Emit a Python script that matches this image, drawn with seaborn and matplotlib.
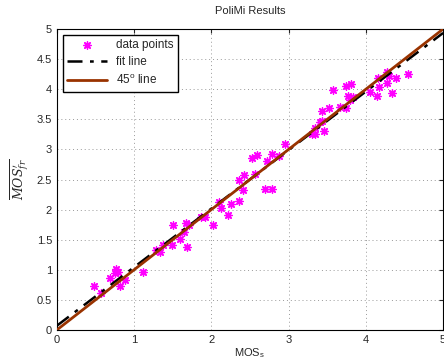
import numpy as np
import pandas as pd
import seaborn as sns
import matplotlib.pyplot as plt

# data points
mos_s = [0.48, 0.57, 0.69, 0.77, 0.79, 0.75, 0.82, 0.88, 1.12, 1.29,
         1.33, 1.38, 1.49, 1.51, 1.60, 1.64, 1.67, 1.71, 1.69, 1.87,
         1.92, 2.02, 2.10, 2.13, 2.21, 2.25, 2.36, 2.41, 2.36, 2.42,
         2.56, 2.70, 2.78, 2.53, 2.59, 2.72, 2.78, 2.88, 2.95, 3.30,
         3.34, 3.34, 3.46, 3.40, 3.43, 3.43, 3.52, 3.67, 3.74, 3.57,
         3.74, 3.81, 3.77, 3.83, 3.80, 4.05, 4.15, 4.17, 4.16, 4.27,
         4.27, 4.30, 4.39, 4.34, 4.54]
mos_fr = [0.73, 0.61, 0.86, 1.01, 0.97, 0.94, 0.73, 0.83, 0.96, 1.33,
          1.30, 1.41, 1.41, 1.74, 1.51, 1.63, 1.77, 1.74, 1.38, 1.88,
          1.87, 1.75, 2.12, 2.03, 1.91, 2.09, 2.14, 2.33, 2.49, 2.57,
          2.59, 2.34, 2.34, 2.85, 2.90, 2.81, 2.93, 2.89, 3.09, 3.26,
          3.26, 3.35, 3.31, 3.46, 3.47, 3.63, 3.68, 3.71, 3.68, 3.99,
          4.06, 4.08, 3.88, 3.87, 3.82, 3.96, 3.88, 4.03, 4.18, 4.11,
          4.29, 4.22, 4.18, 3.94, 4.26]

# fit line
fit_slope = 0.973
fit_intercept = 0.07

line_x = [0, 5]

df = pd.DataFrame({'mos_s': mos_s, 'mos_fr': mos_fr})
lines = pd.DataFrame({'x': line_x,
                      'fit': [fit_intercept + fit_slope * v for v in line_x],
                      'diag': line_x})

sns.set_style('white')
plt.rcParams['font.family'] = ['Liberation Sans', 'DejaVu Sans']
plt.rcParams['mathtext.fontset'] = 'dejavuserif'

fig = plt.figure(figsize=(4.44, 3.63), dpi=100)
ax = fig.add_axes([0.128, 0.091, 0.870, 0.829])

sns.scatterplot(data=df, x='mos_s', y='mos_fr', ax=ax, marker=(8, 2, 0),
                color='#ff00ff', s=28, linewidth=1.0, label='data points', zorder=3)
sns.lineplot(data=lines, x='x', y='fit', ax=ax, color='black',
             dashes=False, linewidth=1.8, label='fit line', zorder=4)
ax.lines[-1].set_dashes([6, 3, 1.5, 3])
sns.lineplot(data=lines, x='x', y='diag', ax=ax, color='#993300',
             linewidth=2, label='45$^\\mathregular{o}$ line', zorder=5)

ax.set_xlim(0, 5)
ax.set_ylim(0, 5)
ax.set_xticks(np.arange(0, 5.1, 1))
ax.set_yticks(np.arange(0, 5.01, 0.5))
ax.set_xticklabels(['0', '1', '2', '3', '4', '5'])
ax.set_yticklabels(['0', '0.5', '1', '1.5', '2', '2.5', '3', '3.5', '4', '4.5', '5'])
ax.tick_params(direction='in', top=True, right=True, labelsize=8, length=3, width=0.8)
ax.grid(True, linestyle=(0, (1, 3)), color='#999999', linewidth=0.7)
for sp in ax.spines.values():
    sp.set_color('black')
    sp.set_linewidth(0.8)

ax.set_title('PoliMi Results', fontsize=8, pad=11)
ax.set_xlabel('MOS$_\\mathregular{s}$', fontsize=8, labelpad=1)
ax.set_ylabel(r'$\overline{MOS^{\prime}_{fr}}$', fontsize=9, labelpad=4)

leg = ax.legend(loc='upper left', fontsize=8.5, frameon=True, fancybox=False,
                borderaxespad=0.5, handlelength=3.4, labelspacing=0.45, borderpad=0.35)
leg.get_frame().set_edgecolor('black')
leg.get_frame().set_linewidth(1.0)
leg.get_frame().set_alpha(1)

fig.savefig('out.png', dpi=100)
